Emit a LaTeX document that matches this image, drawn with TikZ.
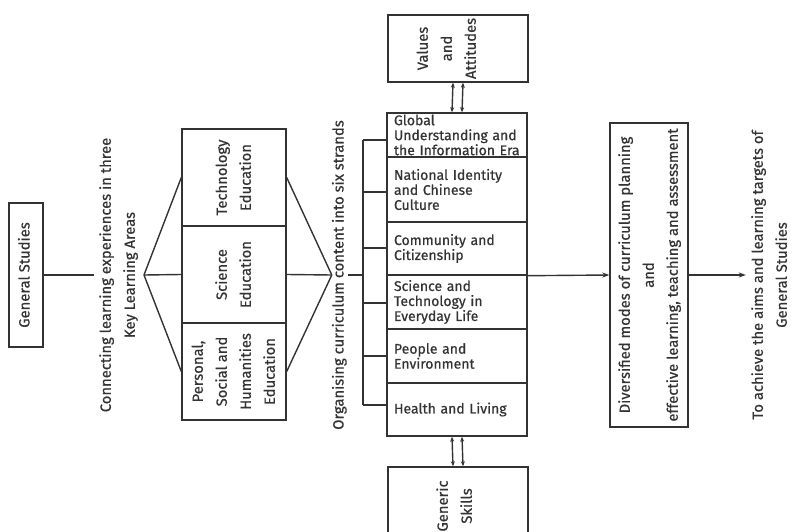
\documentclass[tikz,border=0pt]{standalone}
\usepackage{fontspec}
\setmainfont{Fira Sans}[UprightFeatures={FakeBold=0.6}]
\usetikzlibrary{arrows.meta}
\definecolor{ink}{HTML}{333333}
% rotated text, lines stacked left to right
\newcommand{\up}[2][1.6]{\rotatebox{90}{\fontsize{14.8}{15}\selectfont\renewcommand\arraystretch{#1}\begin{tabular}{@{}c@{}}#2\end{tabular}}}
\tikzset{
  box/.style={draw=ink, line width=1.4pt, inner sep=0pt},
  strand/.style={box, minimum width=140pt, text width=126pt, inner xsep=7pt, align=left},
  lbl/.style={inner sep=0pt},
  link/.style={draw=ink, line width=1.4pt},
  tip/.style={link, -{Stealth[length=7pt,width=5pt]}},
  both/.style={link, {Stealth[length=5pt,width=4pt]}-{Stealth[length=5pt,width=4pt]}}
}
\begin{document}
\begin{tikzpicture}[x=1pt, y=-1pt, text=ink, font=\fontsize{14}{15}\selectfont]
    \useasboundingbox (0,0) rectangle (798,532);

    \node[box, minimum width=34pt, minimum height=144pt] (gs) at (26,275) {\up[1]{General Studies}};
    \node[lbl] (conn) at (118,275) {\up{Connecting learning experiences in three\\Key Learning Areas}};
    \coordinate (v1) at (144,275);

    \node[box, minimum width=104pt, minimum height=97pt] (tech) at (234,177.5) {\up{Technology\\Education}};
    \node[box, minimum width=104pt, minimum height=97pt] (sci)  at (234,274.5) {\up{Science\\Education}};
    \node[box, minimum width=104pt, minimum height=97pt] (pshe) at (234,371.5) {\up{Personal,\\Social and\\Humanities\\Education}};

    \node[lbl] (org) at (340,275) {\up[1]{Organising curriculum content into six strands}};

    \node[strand, minimum height=44pt] (s1) at (457,135)   {Global\\Understanding and\\the Information Era};
    \node[strand, minimum height=65pt] (s2) at (457,189.5) {National Identity\\and Chinese\\Culture};
    \node[strand, minimum height=53pt] (s3) at (457,248.5) {Community and\\Citizenship};
    \node[strand, minimum height=54pt] (s4) at (457,302)   {Science and\\Technology in\\Everyday Life};
    \node[strand, minimum height=54pt] (s5) at (457,356)   {People and\\Environment};
    \node[strand, minimum height=53pt] (s6) at (457,409.5) {Health and Living};

    \node[box, minimum width=140pt, minimum height=67pt] (va)  at (458,48.5) {\up{Values\\and\\Attitudes}\hspace*{22pt}};
    \node[box, minimum width=140pt, minimum height=78pt] (gen) at (458,506)  {\up{Generic\\Skills}\hspace*{6pt}};

    \node[box, minimum width=78pt, minimum height=304pt] (div) at (649,275) {\up{Diversified modes of curriculum planning\\and\\effective learning, teaching and assessment}};
    \node[lbl] (aim) at (770,275) {\up{To achieve the aims and learning targets of\\General Studies}};

    % left part
    \draw[link] (gs.east) -- (conn.west);
    \foreach \k in {tech,sci,pshe} {
       \draw[link] (v1) -- (\k.west);
       \draw[link] (\k.east) -- (org.west);
    }

    % bracket to the six strands
    \foreach \i/\y in {1/140,2/192,3/248,4/303,5/356,6/405} {
       \coordinate (b\i) at (363,\y);
       \draw[link] (b\i) -- (b\i -| s\i.west);
    }
    \draw[link] (b1) -- (b6);
    \draw[link] (org.east) -- (org.east -| b1);

    \draw[both] ([xshift=-5pt]va.south) -- ([xshift=-5pt]s1.north);
    \draw[both] ([xshift=5pt]va.south) -- ([xshift=5pt]s1.north);
    \draw[both] ([xshift=-5pt]s6.south) -- ([xshift=-5pt]gen.north);
    \draw[both] ([xshift=5pt]s6.south) -- ([xshift=5pt]gen.north);

    \draw[tip] (s3.south east) -- (div.west);
    \draw[tip] (div.east) -- (aim.west);

\end{tikzpicture}
\end{document}
